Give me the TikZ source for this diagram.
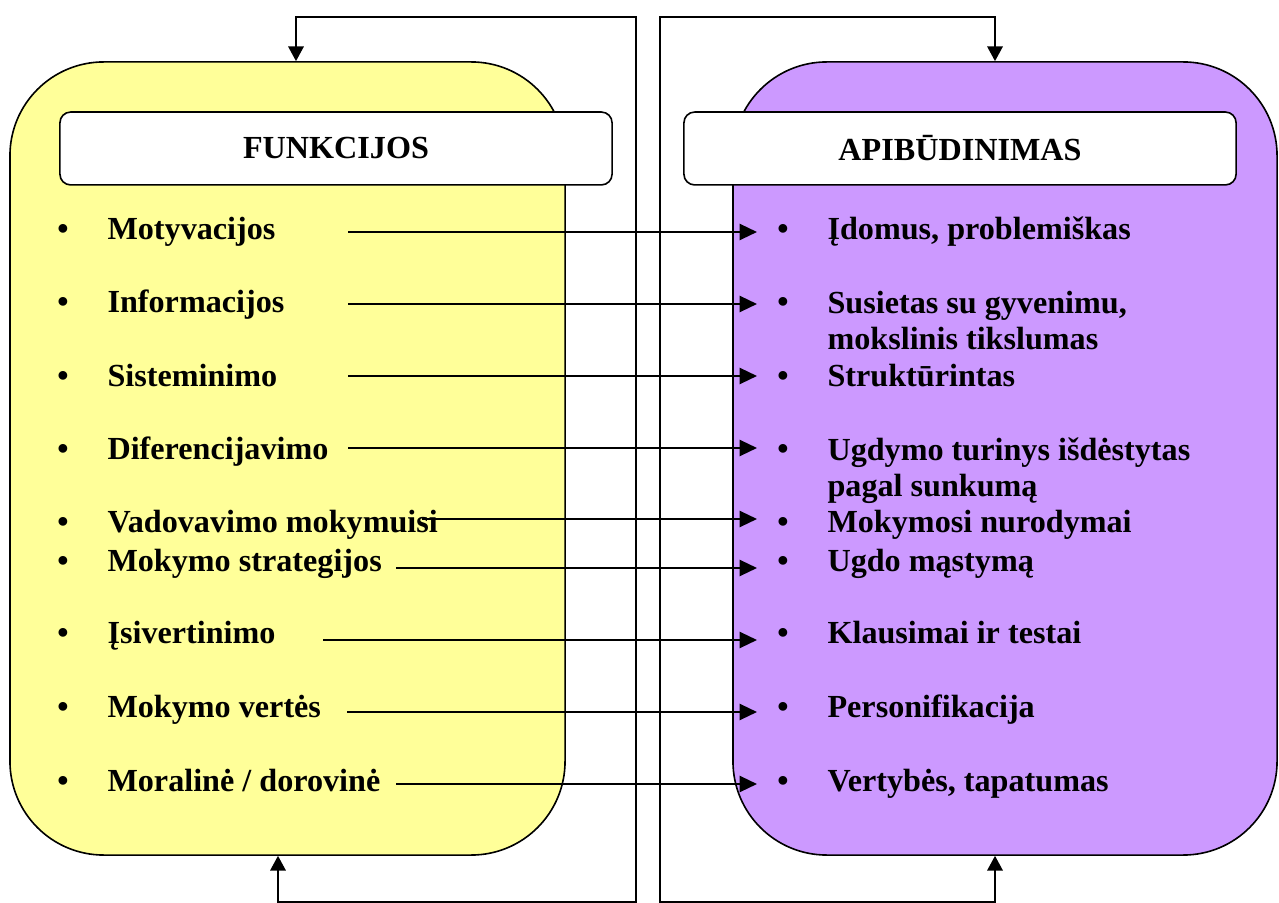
\documentclass[tikz,border=0pt]{standalone}
\usepackage{fontspec}
\setmainfont{Liberation Serif}
\usetikzlibrary{arrows.meta}
\definecolor{funfill}{HTML}{FFFF99}
\definecolor{apifill}{HTML}{CC99FF}

\begin{document}
\begin{tikzpicture}[x=0.3731pt,y=-0.3731pt,
    font=\fontsize{12}{13.8}\selectfont\bfseries,
    panel/.style={draw,line width=0.6pt,rounded corners=35pt,inner sep=0pt},
    head/.style={draw,fill=white,line width=0.6pt,rounded corners=4pt,minimum width=206pt,minimum height=27.2pt},
    item/.style={anchor=base west,inner sep=0pt,align=left},
    dot/.style={anchor=base,inner sep=0pt},
    conn/.style={line width=0.85pt,-{Triangle[length=6.5pt,width=6pt]}},
    loopline/.style={line width=0.6pt,{Triangle[length=5.5pt,width=5.8pt]}-{Triangle[length=5.5pt,width=5.8pt]}}]
      \useasboundingbox (0,0) rectangle (1279,903);
      % the two panels
      \node[panel,fill=funfill,minimum width=207.1pt,minimum height=295.9pt] (funpanel) at (287.5,458.5) {};
      \node[panel,fill=apifill,minimum width=203pt,minimum height=295.9pt] (apipanel) at (1005,458.5) {};
      \node[head] (funhead) at (336,148.5) {FUNKCIJOS};
      \node[head] (apihead) at (960,148.5) {APIBŪDINIMAS};
      % feedback loops
      \coordinate (fl1) at (296,17);
      \coordinate (fl2) at (636,17);
      \coordinate (fl3) at (636,902);
      \coordinate (fl4) at (278,902);
      \draw[loopline] (funpanel.north -| fl1) -- (fl1) -- (fl2) -- (fl3) -- (fl4) -- (funpanel.south -| fl4);
      \coordinate (al1) at (995,17);
      \coordinate (al2) at (660,17);
      \coordinate (al3) at (660,902);
      \coordinate (al4) at (995,902);
      \draw[loopline] (apipanel.north -| al1) -- (al1) -- (al2) -- (al3) -- (al4) -- (apipanel.south -| al4);
      % functions
      \node[dot] (fb1) at (63,240) {\textbullet};
      \node[dot] (fb2) at (63,313) {\textbullet};
      \node[dot] (fb3) at (63,387) {\textbullet};
      \node[dot] (fb4) at (63,460) {\textbullet};
      \node[dot] (fb5) at (63,533) {\textbullet};
      \node[dot] (fb6) at (63,571) {\textbullet};
      \node[dot] (fb7) at (63,643) {\textbullet};
      \node[dot] (fb8) at (63,717) {\textbullet};
      \node[dot] (fb9) at (63,791) {\textbullet};
      \node[item] (fun1) at (107,240) {Motyvacijos};
      \node[item] (fun2) at (107,313) {Informacijos};
      \node[item] (fun3) at (107,387) {Sisteminimo};
      \node[item] (fun4) at (107,460) {Diferencijavimo};
      \node[item] (fun5) at (107,533) {Vadovavimo mokymuisi};
      \node[item] (fun6) at (107,571) {Mokymo strategijos};
      \node[item] (fun7) at (107,643) {Įsivertinimo};
      \node[item] (fun8) at (107,717) {Mokymo vertės};
      \node[item] (fun9) at (107,791) {Moralinė / dorovinė};
      % characteristics (two-line items sit on their last baseline)
      \node[dot] (ab1) at (783,240) {\textbullet};
      \node[dot] (ab2) at (783,313) {\textbullet};
      \node[dot] (ab3) at (783,387) {\textbullet};
      \node[dot] (ab4) at (783,460) {\textbullet};
      \node[dot] (ab5) at (783,533) {\textbullet};
      \node[dot] (ab6) at (783,571) {\textbullet};
      \node[dot] (ab7) at (783,643) {\textbullet};
      \node[dot] (ab8) at (783,717) {\textbullet};
      \node[dot] (ab9) at (783,791) {\textbullet};
      \node[item] (api1) at (827,240) {Įdomus, problemiškas};
      \node[item] (api2) at (827,350) {Susietas su gyvenimu,\\mokslinis tikslumas};
      \node[item] (api3) at (827,387) {Struktūrintas};
      \node[item] (api4) at (827,497) {Ugdymo turinys išdėstytas\\pagal sunkumą};
      \node[item] (api5) at (827,533) {Mokymosi nurodymai};
      \node[item] (api6) at (827,571) {Ugdo mąstymą};
      \node[item] (api7) at (827,643) {Klausimai ir testai};
      \node[item] (api8) at (827,717) {Personifikacija};
      \node[item] (api9) at (827,791) {Vertybės, tapatumas};
      % arrows between the lists
      \coordinate (s1) at (348,232);  \coordinate (e1) at (757,232);
      \coordinate (s2) at (348,304);  \coordinate (e2) at (757,304);
      \coordinate (s3) at (348,376);  \coordinate (e3) at (757,376);
      \coordinate (s4) at (348,448);  \coordinate (e4) at (757,448);
      \coordinate (s5) at (422,519);  \coordinate (e5) at (757,519);
      \coordinate (s6) at (396,568);  \coordinate (e6) at (757,568);
      \coordinate (s7) at (323,640);  \coordinate (e7) at (757,640);
      \coordinate (s8) at (347,712);  \coordinate (e8) at (757,712);
      \coordinate (s9) at (396,784);  \coordinate (e9) at (757,784);
      \draw[conn] (s1) -- (e1);
      \draw[conn] (s2) -- (e2);
      \draw[conn] (s3) -- (e3);
      \draw[conn] (s4) -- (e4);
      \draw[conn] (s5) -- (e5);
      \draw[conn] (s6) -- (e6);
      \draw[conn] (s7) -- (e7);
      \draw[conn] (s8) -- (e8);
      \draw[conn] (s9) -- (e9);
\end{tikzpicture}
\end{document}
